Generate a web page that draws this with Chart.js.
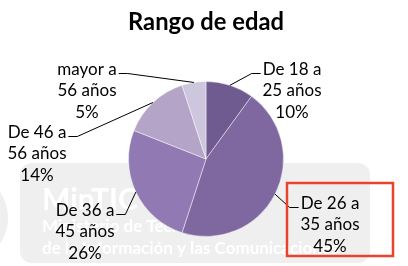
<!DOCTYPE html>
<html>
<head>
<meta charset="utf-8">
<script src="https://cdn.jsdelivr.net/npm/chart.js@4.4.1/dist/chart.umd.min.js"></script>
<style>
  html, body { margin: 0; padding: 0; background: #ffffff; }
  #wrap { width: 408px; height: 266px; position: relative; }
</style>
</head>
<body>
<div id="wrap"><canvas id="graficoEdad"></canvas></div>
<script>
// Datos del gráfico
const categorias = [['De 18 a', '25 años'], ['De 26 a', '35 años'], ['De 36 a', '45 años'], ['De 46 a', '56 años'], ['mayor a', '56 años']];
const porcentajes = [10, 45, 26, 14, 5];
const colores = ['#6f5b8f', '#7f68a0', '#917ab3', '#b4a5c8', '#cec6dc'];

// posición de cada etiqueta (centro del bloque de texto, relativo al centro del pie)
const posEtiquetas = [
  { dx: 86, dy: -68, lado: 'der' },
  { dx: 124, dy: 66, lado: 'der' },
  { dx: -121, dy: 73, lado: 'izq' },
  { dx: -169, dy: -5, lado: 'izq' },
  { dx: -119, dy: -68, lado: 'izq' },
];
const FUENTE = 'Lato, "Open Sans", sans-serif';

// fondo con la marca de agua gris
const marcaAgua = {
  id: 'marcaAgua',
  beforeDraw(chart) {
    const c = chart.ctx;
    c.save();
    c.fillStyle = '#efefef';
    c.beginPath();
    c.roundRect(20, 163, 350, 100, 12);
    c.fill();
    c.beginPath();
    c.arc(-38, 218, 46, 0, Math.PI * 2);
    c.fill();
    c.fillStyle = '#ffffff';
    c.textBaseline = 'alphabetic';
    c.font = 'bold 30px ' + FUENTE;
    c.fillText('MinTIC', 42, 210);
    c.font = 'bold 17px ' + FUENTE;
    c.fillText('Ministerio de Tecnologías', 42, 232);
    c.fillText('de la Información y las Comunicaciones', 42, 254);
    c.restore();
  },
};

// etiquetas con líneas guía, estilo Excel
const etiquetas = {
  id: 'etiquetas',
  afterDatasetsDraw(chart) {
    const c = chart.ctx;
    const arcs = chart.getDatasetMeta(0).data;
    const lh = 21.5;
    c.save();
    c.font = '17px ' + FUENTE;
    c.fillStyle = '#000000';
    c.textAlign = 'center';
    c.textBaseline = 'middle';
    arcs.forEach((arc, i) => {
      const p = posEtiquetas[i];
      const lineas = [...categorias[i], porcentajes[i] + '%'];
      const cx = arc.x + p.dx;
      const cy = arc.y + p.dy;
      lineas.forEach((t, k) => c.fillText(t, cx, cy + (k - 1) * lh));

      // línea guía
      const mid = (arc.startAngle + arc.endAngle) / 2;
      const r = arc.outerRadius;
      const x0 = arc.x + Math.cos(mid) * r;
      const y0 = arc.y + Math.sin(mid) * r;
      const w = c.measureText(lineas[0]).width;
      const yl = cy - lh + 4;
      const xt = p.lado === 'der' ? cx - w / 2 - 2 : cx + w / 2 + 2;
      const xe = p.lado === 'der' ? xt - 9 : xt + 9;
      c.strokeStyle = '#000000';
      c.lineWidth = 1;
      c.beginPath();
      c.moveTo(x0, y0);
      c.lineTo(xe, yl);
      c.lineTo(xt, yl);
      c.stroke();
    });

    // recuadro rojo alrededor de la etiqueta de 45%
    const a = arcs[1];
    const bx = a.x + posEtiquetas[1].dx;
    const by = a.y + posEtiquetas[1].dy;
    c.strokeStyle = '#e8432d';
    c.lineWidth = 2.5;
    c.strokeRect(bx - 43, by - 42, 106, 73);
    c.restore();
  },
};

new Chart(document.getElementById('graficoEdad').getContext('2d'), {
  type: 'pie',
  data: {
    labels: categorias,
    datasets: [
      {
        data: porcentajes,
        backgroundColor: colores,
        borderColor: 'rgba(255,255,255,0.45)',
        borderWidth: 1,
        hoverOffset: 0,
      },
    ],
  },
  options: {
    responsive: true,
    maintainAspectRatio: false,
    animation: false,
    layout: { padding: { left: 128, right: 124, top: 0, bottom: 29 } },
    plugins: {
      legend: { display: false },
      tooltip: { enabled: false },
      title: {
        display: true,
        text: 'Rango de edad',
        color: '#000000',
        font: { family: FUENTE, size: 25, weight: 'bold', lineHeight: 1.2 },
        padding: { top: 7, bottom: 44 },
      },
    },
  },
  plugins: [marcaAgua, etiquetas],
});
</script>
</body>
</html>
